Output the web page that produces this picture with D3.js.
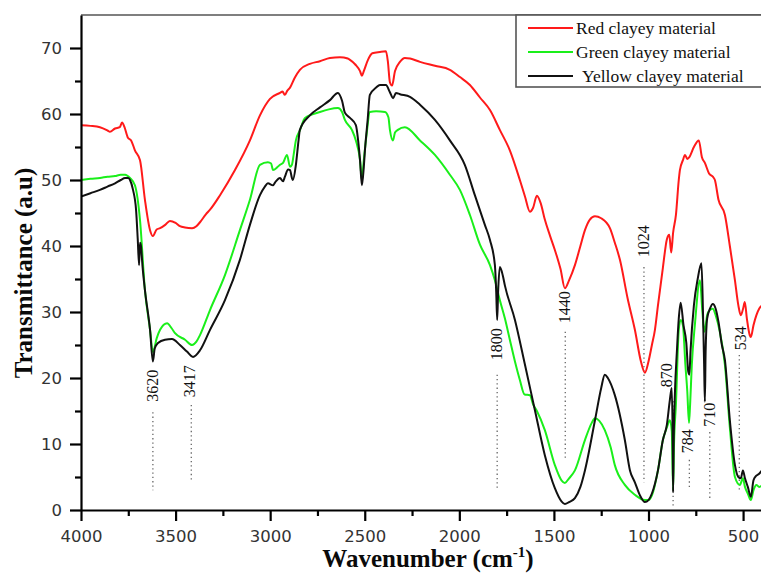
<!DOCTYPE html>
<html>
<head>
<meta charset="utf-8">
<script src="https://cdn.jsdelivr.net/npm/d3@7"></script>
<style>
  body { margin: 0; background: #fff; }
  svg { display: block; }
</style>
</head>
<body>
<div id="graph"></div>
<script>
// Spectres FTIR : [nombre d'onde (cm-1), transmittance (a.u)]
const redSeries = [
  [4000,58.3],[3950,58.2],[3900,58.0],[3860,57.5],[3847,57.3],[3820,57.8],[3795,58.0],[3783,58.7],[3770,58.0],
  [3752,56.4],[3735,56.0],[3715,54.5],[3688,53],[3662,47],[3635,42.4],[3620,41.5],[3600,42.5],[3582,42.7],
  [3555,43.2],[3530,43.8],[3500,43.5],[3477,43.0],[3450,42.8],[3413,42.7],[3390,43.0],[3371,43.6],[3340,44.8],
  [3318,45.5],[3265,47.7],[3186,51.5],[3107,56],[3054,59.8],[3001,62.3],[2948,63.2],[2935,63.4],[2922,62.9],
  [2910,63.5],[2895,64],[2870,65.5],[2843,66.7],[2790,67.6],[2737,68.0],[2684,68.5],[2631,68.6],[2590,68.4],
  [2578,68.2],[2550,67.5],[2525,66.5],[2515,65.8],[2505,66.5],[2483,68.2],[2460,69.2],[2420,69.4],[2388,69.5],
  [2378,68],[2367,64.8],[2356,64.3],[2340,66.5],[2314,67.9],[2288,68.5],[2260,68.4],[2208,67.9],[2129,67.3],
  [2050,66.7],[1997,65.6],[1944,64.4],[1891,62.5],[1838,60.6],[1786,57.6],[1733,54.5],[1680,50],[1653,47.5],
  [1627,45.2],[1610,45.8],[1590,47.6],[1570,46.5],[1548,44],[1520,41.5],[1495,39.4],[1465,36.5],[1442,33.6],
  [1420,34.8],[1389,37.1],[1360,40],[1336,42.4],[1310,44],[1283,44.5],[1250,44.2],[1204,42.7],[1178,40.5],
  [1151,37.9],[1110,32],[1072,27.3],[1040,22.5],[1019,20.8],[1000,22.5],[982,25],[966,27.3],[950,31],
  [924,36.7],[903,41],[890,41.7],[880,39],[870,42],[855,44.7],[840,50],[834,51.5],[818,53],[807,53.8],
  [795,53.2],[786,53.4],[760,55],[734,56],[718,53.5],[702,52.6],[680,51],[660,50.5],[649,50],[630,47],
  [596,44.7],[570,40],[543,34.8],[525,31],[512,29.5],[500,30.5],[491,31.5],[480,29],[465,26.5],[459,26.2],
  [445,28],[430,29.5],[415,30.5],[400,31]
]

const greenSeries = [
  [4000,50],[3950,50.2],[3900,50.3],[3860,50.5],[3820,50.6],[3790,50.8],[3767,50.8],[3741,50.3],[3715,49.2],
  [3688,43.9],[3662,33.3],[3635,27.3],[3620,23.9],[3600,26],[3582,27.3],[3545,28.3],[3520,27.5],[3503,26.8],
  [3450,25.8],[3413,25],[3390,25.5],[3371,26.5],[3318,30.3],[3239,35.6],[3160,42.4],[3107,47],[3054,52.3],
  [3012,52.7],[2995,52.5],[2985,51.5],[2960,52],[2948,52.3],[2932,52.6],[2911,53.8],[2895,52],[2885,52.3],
  [2875,54],[2864,56],[2843,57.5],[2816,59.4],[2737,60.3],[2690,60.7],[2642,60.9],[2620,60.3],[2605,59.1],
  [2568,57.6],[2547,56],[2525,53],[2515,50],[2505,53],[2490,57],[2473,60.3],[2440,60.4],[2393,60.3],
  [2375,59.5],[2367,57.6],[2351,56],[2340,57.2],[2325,57.6],[2288,58],[2208,56],[2129,53.8],[2050,50.8],
  [1997,48.5],[1944,44.7],[1891,40.2],[1838,37.1],[1812,34.8],[1786,31.8],[1759,29],[1733,25.8],[1706,22.5],
  [1680,19.7],[1655,17.5],[1627,17.4],[1610,16],[1590,15],[1548,12.1],[1495,6.8],[1460,4.5],[1442,4.1],
  [1420,4.8],[1389,6],[1336,10.6],[1300,13.2],[1283,13.9],[1260,13.5],[1231,12.1],[1200,9.5],[1178,6.8],
  [1125,3.8],[1072,2.3],[1019,1.5],[1000,1.5],[982,2.2],[950,6],[924,10.6],[903,12.5],[887,13.6],[877,12],
  [870,3],[865,10],[855,16],[840,27.3],[830,28.8],[818,28],[805,22],[795,18],[786,13.2],[780,16],[771,22],
  [755,28],[728,34.8],[715,30],[705,27],[700,27.5],[690,29.5],[676,30.3],[660,30.5],[645,29.5],[623,27],
  [596,22],[570,12.5],[543,5],[517,3.8],[501,4.8],[490,3.5],[475,2.5],[459,1.5],[445,3],[430,3.8],
  [415,3.5],[400,3.7]
]

const blackSeries = [
  [4000,47.5],[3950,48],[3900,48.5],[3860,49],[3820,49.5],[3790,50],[3767,50.3],[3750,50.3],[3741,50],
  [3725,48.5],[3709,45.5],[3700,41],[3693,37.1],[3688,40.5],[3683,40],[3675,37],[3662,33.3],[3635,27.3],
  [3620,22.5],[3610,24.5],[3593,25.3],[3556,25.8],[3519,25.9],[3477,25],[3440,24],[3408,23.2],[3371,24.2],
  [3318,27.3],[3239,31.8],[3160,37.9],[3107,43.2],[3054,47.7],[3028,49],[3012,49.5],[2985,49.2],[2970,49.8],
  [2948,50.3],[2932,49.8],[2922,50.5],[2905,51.6],[2895,51.5],[2885,50.3],[2880,50],[2864,52.3],[2850,56],
  [2843,57.6],[2790,59.8],[2737,61],[2684,62.1],[2642,63.2],[2620,62],[2605,60.2],[2578,59.4],[2547,58.3],
  [2535,56],[2525,53],[2515,49.2],[2505,52],[2499,54.5],[2485,59],[2473,62.9],[2440,64],[2420,64.4],
  [2388,64.4],[2367,63.3],[2350,62.4],[2335,63.2],[2314,63.0],[2261,62.6],[2208,61.4],[2129,59.1],[2050,56],
  [1971,52.3],[1918,47.7],[1865,43.2],[1838,40.9],[1812,37.1],[1805,33],[1800,28.8],[1795,33],[1786,36.8],
  [1770,35.5],[1759,34],[1706,28.8],[1653,22],[1601,15.2],[1548,8.3],[1495,3.3],[1460,1.3],[1442,0.9],
  [1420,1.2],[1389,1.8],[1360,3.5],[1336,6],[1283,13.6],[1250,18.5],[1231,20.5],[1215,20],[1178,17.4],
  [1125,10.6],[1098,6],[1072,4.2],[1045,2.2],[1019,1.2],[1000,1.5],[982,2.5],[950,6],[924,10.6],[903,12.9],
  [887,16.7],[877,18.5],[872,10],[870,2.7],[867,10],[860,18],[850,24],[840,29],[830,31.4],[815,28],
  [800,25.3],[790,21],[784,20.5],[778,24],[760,31],[740,35],[720,37.4],[712,30],[706,22],[702,16.4],
  [698,24],[690,29],[675,30.5],[660,31.2],[645,30.5],[630,28.5],[612,25],[596,22.7],[570,13.6],[543,6.8],
  [525,5],[512,4.8],[501,6],[490,4.8],[475,3.5],[459,2],[445,4.5],[430,5.2],[415,5.5],[400,6]
]

const seriesNames = ["Red clayey material", "Green clayey material", "Yellow clayey material"]
const seriesColors = ["#ff1a1a", "#1aef1a", "#111111"]

// Bandes annotées
const peakLabels = ["3620", "3417", "1800", "1440", "1024", "870", "784", "710", "534"]
const peakWn     = [3620, 3417, 1800, 1440, 1024, 870, 784, 676, 520]   // position du pointillé
const labelWn    = [3620, 3425, 1800, 1440, 1024, 903, 789, 676, 510]   // position du texte
const labelBase  = [16.4, 17.1, 22.7, 28.3, 38.3, 18.6, 8.6, 12.6, 24.2] // bas du texte
const dotTop     = [14.8, 15.9, 20.5, 27.0, 36.8, 16.5, 7.6, 11.8, 23.5]
const dotBottom  = [3.0, 4.2, 3.0, 7.6, 4.2, 0.5, 3.3, 1.8, 3.0]

const xMajor = [4000, 3500, 3000, 2500, 2000, 1500, 1000, 500]
const xMinor = [3750, 3250, 2750, 2250, 1750, 1250, 750]
const yMajor = [0, 10, 20, 30, 40, 50, 60, 70]
const yMinor = [5, 15, 25, 35, 45, 55, 65]

/* ------------------------------------------------------------------------------
    GRAPH
------------------------------------------------------------------------------ */
const W = 761, H = 573
const margin = { top: 15, left: 81, bottom: 63 }

const svg = d3.select("#graph")
  .append("svg")
  .attr("width", W)
  .attr("height", H)

const x = d3.scaleLinear()
  .domain([4000, 400])
  .range([margin.left, margin.left + 681])

const y = d3.scaleLinear()
  .domain([0, 75])
  .range([H - margin.bottom, margin.top])

// Cadre du haut
svg.append("line")
  .attr("x1", margin.left).attr("x2", W)
  .attr("y1", y(75)).attr("y2", y(75))
  .attr("stroke", "#555").attr("stroke-width", 1.6)

// Annotations (pointillés + étiquettes)
peakLabels.forEach((lab, i) => {
  svg.append("line")
    .attr("x1", x(peakWn[i])).attr("x2", x(peakWn[i]))
    .attr("y1", y(dotTop[i])).attr("y2", y(dotBottom[i]))
    .attr("stroke", "#666")
    .attr("stroke-width", 1.3)
    .attr("stroke-dasharray", "1.3,3")
  svg.append("text")
    .attr("transform", `translate(${x(labelWn[i]) + 5},${y(labelBase[i])}) rotate(-90)`)
    .attr("font-family", "Liberation Serif, serif")
    .attr("font-size", 16)
    .attr("fill", "#111")
    .text(lab)
})

// Courbes
const line = d3.line()
  .x(d => x(d[0]))
  .y(d => y(d[1]))
  .curve(d3.curveMonotoneX)

svg.append("clipPath").attr("id", "plotclip")
  .append("rect")
  .attr("x", margin.left).attr("y", margin.top)
  .attr("width", W - margin.left).attr("height", y(0) - margin.top)

;[redSeries, greenSeries, blackSeries].forEach((s, i) => {
  svg.append("path")
    .datum(s)
    .attr("clip-path", "url(#plotclip)")
    .attr("fill", "none")
    .attr("stroke", seriesColors[i])
    .attr("stroke-width", 2)
    .attr("stroke-linejoin", "round")
    .attr("d", line)
})

/* ------------------------------------------------------------------------------
    AXES
------------------------------------------------------------------------------ */
const tickFont = "DejaVu Sans, sans-serif"

svg.append("g")
  .attr("transform", `translate(0,${y(0)})`)
  .call(d3.axisBottom(x).tickValues(xMajor).tickFormat(d3.format("d")).tickSize(11).tickSizeOuter(0).tickPadding(9))
svg.append("g")
  .attr("transform", `translate(0,${y(0)})`)
  .call(d3.axisBottom(x).tickValues(xMinor).tickSize(6).tickFormat("").tickSizeOuter(0))
  .select(".domain").remove()

svg.append("g")
  .attr("transform", `translate(${margin.left},0)`)
  .call(d3.axisLeft(y).tickValues(yMajor).tickSize(11).tickSizeOuter(0).tickPadding(8))
svg.append("g")
  .attr("transform", `translate(${margin.left},0)`)
  .call(d3.axisLeft(y).tickValues(yMinor).tickSize(6).tickFormat("").tickSizeOuter(0))
  .select(".domain").remove()

svg.selectAll(".domain, .tick line")
  .attr("stroke", "#000")
  .attr("stroke-width", 2.2)

svg.selectAll(".tick text")
  .attr("font-family", tickFont)
  .attr("font-size", 16.5)
  .attr("fill", "#333")

// Titres des axes
svg.append("text")
  .attr("transform", `translate(32,${273}) rotate(-90)`)
  .attr("text-anchor", "middle")
  .attr("font-family", "Liberation Serif, serif")
  .attr("font-weight", "bold")
  .attr("font-size", 25)
  .attr("fill", "#0a0a0a")
  .text("Transmittance (a.u)")

const xt = svg.append("text")
  .attr("x", 428)
  .attr("y", 567)
  .attr("text-anchor", "middle")
  .attr("font-family", "Liberation Serif, serif")
  .attr("font-weight", "bold")
  .attr("font-size", 25)
  .attr("fill", "#0a0a0a")
xt.append("tspan").text("Wavenumber (cm")
xt.append("tspan").attr("font-size", 15).attr("dy", -10).text("-1")
xt.append("tspan").attr("dy", 10).text(")")

/* ------------------------------------------------------------------------------
    LÉGENDE
------------------------------------------------------------------------------ */
svg.append("rect")
  .attr("x", 516).attr("y", y(75))
  .attr("width", 260).attr("height", 72)
  .attr("fill", "#fff")
  .attr("stroke", "#555")
  .attr("stroke-width", 1.6)

seriesNames.forEach((name, i) => {
  const ly = 28 + i * 24
  svg.append("line")
    .attr("x1", 528).attr("x2", 573)
    .attr("y1", ly).attr("y2", ly)
    .attr("stroke", seriesColors[i])
    .attr("stroke-width", 2.2)
  svg.append("text")
    .attr("x", i === 2 ? 582 : 576)
    .attr("y", ly + 6)
    .attr("font-family", "Liberation Serif, serif")
    .attr("font-size", 17.5)
    .attr("fill", "#111")
    .text(name)
})
</script>
</body>
</html>
